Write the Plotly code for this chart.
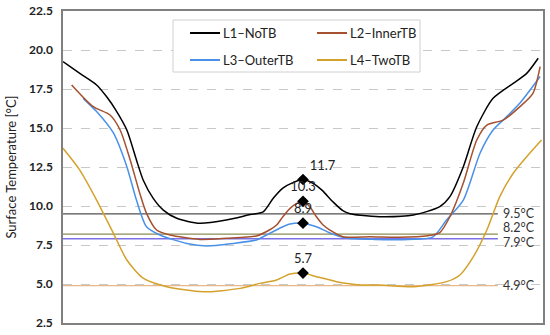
import plotly.graph_objects as go

# ---------------- data ----------------
l1_x = [0, 3.5, 7, 9.1, 11, 13.3, 15.3, 16.7, 18.8, 20.9, 23.7, 28.5, 34, 39, 41.7, 43.8, 45.8, 47.9, 50, 52.1, 54, 56.2, 58.3, 59.8, 62, 66, 73, 78.5, 80.6, 83.4, 86.2, 89.6, 93.8, 96.6, 99]
l1_y = [19.25, 18.5, 17.76, 17.0, 16.15, 14.87, 12.95, 11.67, 10.49, 9.74, 9.21, 8.89, 9.1, 9.45, 9.63, 10.5, 11.15, 11.5, 11.7, 11.45, 11.0, 10.28, 9.7, 9.5, 9.4, 9.31, 9.42, 9.96, 10.6, 12.52, 15.08, 16.9, 17.86, 18.5, 19.47]

l2_x = [1.8, 6.3, 9.8, 11.9, 14, 16, 17.4, 19.5, 22.3, 28.5, 34, 40.3, 43, 44.5, 45.8, 47.3, 48.7, 50, 51.4, 52.8, 54.2, 55.6, 58.3, 64, 70, 76, 78.5, 80.6, 83.4, 86.2, 88.3, 91.7, 95.2, 97.9, 99.4]
l2_y = [17.76, 16.37, 15.83, 14.87, 12.95, 10.81, 9.53, 8.46, 8.14, 7.86, 7.93, 8.08, 8.46, 8.78, 9.31, 9.85, 10.17, 10.3, 9.96, 9.31, 8.78, 8.46, 8.03, 8.03, 8.0, 8.1, 8.3, 9.31, 11.47, 14.23, 15.19, 15.5, 16.37, 17.22, 18.93]

l3_x = [4.2, 7, 10.5, 13.3, 15.3, 17.4, 20.2, 25.8, 30, 35.4, 40.3, 41.7, 45.8, 47.3, 50, 52.8, 55.6, 59, 65, 72, 77, 79.9, 83.4, 86.9, 89.6, 92.4, 95.2, 99.4]
l3_y = [16.9, 16.05, 14.68, 12.52, 10.38, 8.67, 8.14, 7.6, 7.44, 7.6, 7.82, 8.03, 8.67, 8.85, 8.9, 8.67, 8.27, 7.95, 7.86, 7.86, 8.0, 9.1, 10.38, 13.4, 14.87, 15.72, 16.6, 18.3]

l4_x = [0, 3.5, 7, 10.5, 13.3, 16.7, 21.6, 29.2, 36.9, 41, 44.5, 47.3, 50, 52.8, 57, 61.9, 66, 73, 79.9, 82.7, 85.5, 88.3, 91, 93.8, 96.6, 99.7]
l4_y = [13.7, 12.3, 10.38, 8.25, 6.54, 5.37, 4.83, 4.5, 4.72, 5.04, 5.26, 5.64, 5.7, 5.47, 5.15, 4.94, 4.94, 4.83, 5.15, 5.58, 6.75, 8.46, 10.6, 12.1, 13.16, 14.23]

series_names = ["L1–NoTB", "L2–InnerTB", "L3–OuterTB", "L4–TwoTB"]
series_colors = ["#000000", "#A5502E", "#4A90E8", "#D4A22C"]

peak_x = [50, 50, 50, 50]
peak_y = [11.7, 10.3, 8.9, 5.7]
peak_labels = ["11.7", "10.3", "8.9", "5.7"]

ref_values = [9.5, 8.2, 7.9, 4.9]
ref_labels = ["9.5°C", "8.2°C", "7.9°C", "4.9°C"]
ref_colors = ["#505050", "#8C8C55", "#7B70E6", "#E8B888"]
ref_label_y = [9.55, 8.62, 7.68, 4.9]
ref_x_end = 90.6

FONT = "Lato"

fig = go.Figure()

for v, c in zip(ref_values, ref_colors):
    fig.add_trace(go.Scatter(x=[0, ref_x_end], y=[v, v], mode="lines",
                             line=dict(color=c, width=1.3), showlegend=False, hoverinfo="skip"))

for xs, ys, nm, c in zip([l4_x, l3_x, l2_x, l1_x], [l4_y, l3_y, l2_y, l1_y],
                         series_names[::-1], series_colors[::-1]):
    fig.add_trace(go.Scatter(x=xs, y=ys, mode="lines", name=nm,
                             line=dict(color=c, width=1.5, shape="spline", smoothing=0.7),
                             showlegend=False))

fig.add_trace(go.Scatter(x=peak_x, y=peak_y, mode="markers+text", text=peak_labels,
                         textposition=["top right", "top center", "top center", "top center"],
                         textfont=dict(family=FONT, size=13, color="#222222"),
                         marker=dict(symbol="diamond", size=9, color="#000000"),
                         showlegend=False))

for ly, lab in zip(ref_label_y, ref_labels):
    fig.add_annotation(x=91.2, y=ly, text=lab, showarrow=False, xanchor="left",
                       yanchor="middle", font=dict(family=FONT, size=12.5, color="#333333"))

def px2x(px):
    return (px - 63) / 480.0

def py2y(py):
    return (323 - py) / 312.0

fig.add_shape(type="rect", xref="paper", yref="paper",
              x0=px2x(173), x1=px2x(420), y0=py2y(72), y1=py2y(20),
              line=dict(color="#D0D0D0", width=1), fillcolor="white", layer="above")
leg_pos = [(190, 33), (317, 33), (190, 60), (317, 60)]
for (lx, ly), nm, c in zip(leg_pos, series_names, series_colors):
    fig.add_shape(type="line", xref="paper", yref="paper",
                  x0=px2x(lx), x1=px2x(lx + 30), y0=py2y(ly), y1=py2y(ly),
                  line=dict(color=c, width=2), layer="above")
    fig.add_annotation(xref="paper", yref="paper", x=px2x(lx + 31), y=py2y(ly),
                       text=nm, showarrow=False, xanchor="left", yanchor="middle",
                       font=dict(family=FONT, size=13, color="#222222"))

fig.update_layout(
    width=550, height=335,
    margin=dict(l=63, r=7, t=11, b=12, autoexpand=False),
    paper_bgcolor="white", plot_bgcolor="white",
    font=dict(family=FONT, size=12, color="#222222"),
    xaxis=dict(range=[0, 100], showticklabels=False, showgrid=False, zeroline=False,
               showline=True, linecolor="#808080", linewidth=1.5, mirror=True, ticks=""),
    yaxis=dict(range=[2.5, 22.5], dtick=2.5, tick0=2.5, tickformat=".1f",
               tickfont=dict(family=FONT, size=12, color="#222222", weight="bold"),
               ticklabeloverflow="allow",
               showgrid=True, gridcolor="#C8C8C8", griddash="dash", gridwidth=1,
               zeroline=False, showline=True, linecolor="#808080", linewidth=1.5,
               mirror=True, ticks="", ticklabelstandoff=6,
               title=dict(text="Surface Temperature [°C]", font=dict(family=FONT, size=13),
                          standoff=10)),
)

fig.write_html("out.html", config={"displayModeBar": False},
               post_script="document.body.style.margin='0';document.body.style.overflow='hidden';")
